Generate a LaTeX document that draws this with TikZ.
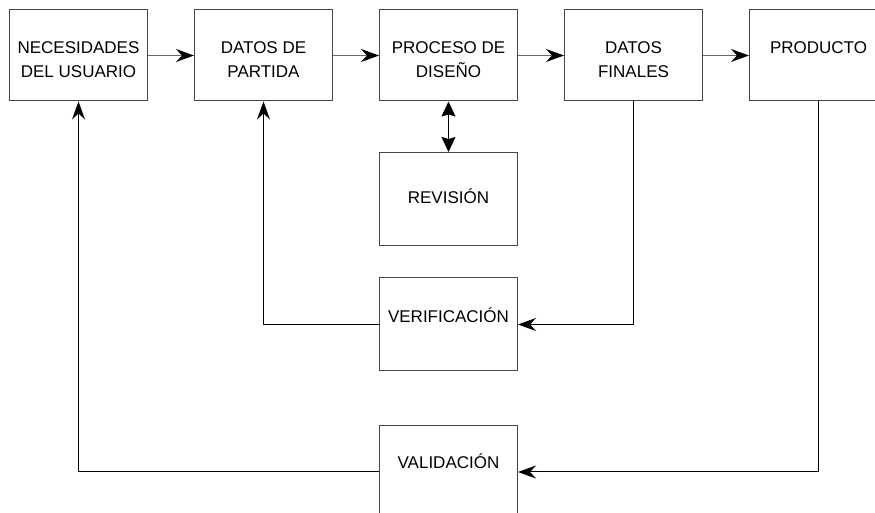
\documentclass[tikz,border=0pt]{standalone}
\usepackage{fontspec}
\setmainfont{Liberation Sans}
\usetikzlibrary{arrows.meta,positioning,calc}
\definecolor{ink}{RGB}{0,0,0}
\definecolor{edge}{RGB}{70,70,70}
\definecolor{soft}{RGB}{105,105,105}
\tikzset{
  every picture/.style={color=ink, line width=0.5pt},
  node distance=25pt and 23pt,
  box/.style={draw=edge, fill=white, inner sep=0pt, minimum width=69pt, minimum height=45.5pt},
  check/.style={box, minimum height=46.5pt},
  txt/.style={font=\fontsize{8.5}{12}\selectfont, align=center, inner sep=0pt, anchor=base},
  flow/.style={-{Stealth[length=9pt,width=6.5pt,inset=3pt,color=ink]}, color=soft},
  both/.style={{Stealth[length=7.5pt,width=7pt,inset=1pt]}-{Stealth[length=7.5pt,width=7pt,inset=1pt]}},
  back/.style={-{Stealth[length=9pt,width=6.5pt,inset=3pt]}},
}
\begin{document}
\begin{tikzpicture}[x=0.5pt, y=-0.5pt]
  \useasboundingbox (0,0) rectangle (875,513);
  \clip (0,0) rectangle (875,513);
  % top row
  \node[box] (nec) at (78.5,55.5) {};
  \node[box, right=of nec] (dat) {};
  \node[box, right=of dat] (pro) {};
  \node[box, right=of pro] (fin) {};
  \node[box, right=of fin] (prod) {};
  % checks below the design step
  \node[check, below=25.25pt of pro] (rev) {};
  \node[check, below=15.75pt of rev] (ver) {};
  \node[check, below=26.75pt of ver] (val) {};
  % texts (base = last line)
  \node[txt] (nec-t) at ($(nec.north)+(0,68)$) {NECESIDADES\\DEL USUARIO};
  \node[txt] (dat-t) at ($(dat.north)+(0,68)$) {DATOS DE\\PARTIDA};
  \node[txt] (pro-t) at ($(pro.north)+(0,68)$) {PROCESO DE\\DISEÑO};
  \node[txt] (fin-t) at ($(fin.north)+(0,68)$) {DATOS\\FINALES};
  \node[txt] (prod-t) at ($(prod.north)+(0,44)$) {PRODUCTO};
  \node[txt] (rev-t) at ($(rev.north)+(0,52)$) {REVISIÓN};
  \node[txt] (ver-t) at ($(ver.north)+(0,45)$) {VERIFICACIÓN};
  \node[txt] (val-t) at ($(val.north)+(0,44)$) {VALIDACIÓN};
  % connectors
  \draw[flow] (nec) -- (dat);
  \draw[flow] (dat) -- (pro);
  \draw[flow] (pro) -- (fin);
  \draw[flow] (fin) -- (prod);
  \draw[both] (pro) -- (rev);
  \draw[back] (fin.south) |- (ver.east);
  \draw[back] (ver.west) -| (dat.south);
  \draw[back] (prod.south) |- (val.east);
  \draw[back] (val.west) -| (nec.south);
\end{tikzpicture}
\end{document}
